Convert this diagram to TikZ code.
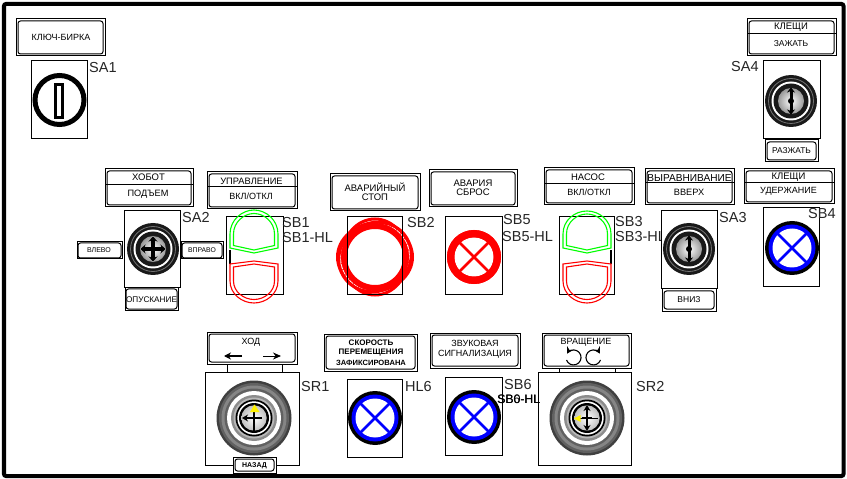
\documentclass[tikz,border=0pt]{standalone}
\usepackage{fontspec}
\setmainfont{Liberation Sans}
\usetikzlibrary{arrows.meta}
\newcommand{\fs}[1]{\fontsize{#1bp}{#1bp}\selectfont}
\def\pgap{2}
\tikzset{
  x=1bp,y=-1bp,
  plateouter/.style={draw=black,line width=1bp,fill=white,inner sep=0pt,outer sep=0pt},
  plateinner/.style={draw=black,line width=1bp,rounded corners=2.5bp},
  devbox/.style={draw=black,line width=1bp,fill=white,inner sep=0pt,outer sep=0pt},
  devlabel/.style={inner sep=0pt,anchor=west,font=\fs{14.5},text=black!85},
  platetext/.style={inner sep=0pt,anchor=center},
  greenl/.style={draw=green,line width=1.1bp},
  redl/.style={draw=red,line width=1.1bp},
}
% name x1 y1 x2 y2
\newcommand{\plate}[5]{%
  \node[plateouter,minimum width={(#4-#2)*1bp},minimum height={(#5-#3)*1bp}] (#1) at ({(#2+#4)/2},{(#3+#5)/2}) {};
  \draw[plateinner] ({#2+\pgap},{#3+\pgap}) rectangle ({#4-\pgap},{#5-\pgap});
}
\newcommand{\divider}[3]{\draw[black,line width=1bp] (#1,#3) -- (#2,#3);}
\newcommand{\device}[5]{%
  \node[devbox,minimum width={(#4-#2)*1bp},minimum height={(#5-#3)*1bp}] (#1) at ({(#2+#4)/2},{(#3+#5)/2}) {};
}
% x y ringcolor outercolor
\newcommand{\lampring}[4]{%
  \fill[#4] (#1,#2) circle (27);
  \fill[#3] (#1,#2) circle (23.5);
  \fill[white] (#1,#2) circle (19.5);
  \draw[#3,line width=2.6bp] ({#1-15},{#2-15}) -- ({#1+15},{#2+15});
  \draw[#3,line width=2.6bp] ({#1-15},{#2+15}) -- ({#1+15},{#2-15});
}
% rotary base: x y
\newcommand{\knob}[2]{%
  \fill[black!90] (#1,#2) circle (26);
  \draw[black!55,line width=0.8bp] (#1,#2) circle (22.5);
  \fill[white] (#1,#2) circle (19.5);
  \fill[black!90] (#1,#2) circle (17.5);
  \shade[inner color=white,outer color=black!40] (#1,#2) circle (13);
}
\newcommand{\srknob}[2]{%
  \fill[black!75] (#1,#2) circle (37.5);
  \fill[black!62] (#1,#2) circle (35);
  \fill[black!48] (#1,#2) circle (32.5);
  \fill[black!62] (#1,#2) circle (29.5);
  \fill[white] (#1,#2) circle (27);
  \fill[black!45] (#1,#2) circle (23);
  \fill[black!28] (#1,#2) circle (20.5);
  \fill[black] (#1,#2) circle (18.5);
  \fill[white] (#1,#2) circle (16.7);
  \fill[black] (#1,#2) circle (15);
  \shade[inner color=white,outer color=black!25] (#1,#2) circle (12.7);
}
\begin{document}
\begin{tikzpicture}
\useasboundingbox (0,0) rectangle (847,479);
\fill[white] (0,0) rectangle (847,479);
\draw[black,line width=4bp,rounded corners=2bp] (4,4) rectangle (843.5,476);

% --- SA1
\plate{pkey}{16}{19}{105}{56}
\node[platetext,font=\fs{9}] (tkey) at (61,37.5) {КЛЮЧ-БИРКА};
\device{sa1}{31}{61}{87}{139}
\draw[black,line width=5bp] (59.5,100) circle (24.5);
\draw[black,line width=3.2bp,fill=white] (55.5,84.5) rectangle (62.5,117.5);
\node[devlabel] (lsa1) at (89,68) {SA1};

% --- SA4
\plate{pkl}{747}{19}{836}{56}
\divider{747}{836}{34}
\node[platetext,font=\fs{9.5}] (tkl1) at (791,27.5) {КЛЕЩИ};
\node[platetext,font=\fs{8.5}] (tkl2) at (791,44) {ЗАЖАТЬ};
\device{sa4}{763}{61}{820}{139}
\knob{791}{101}
\draw[black,line width=3bp,{Stealth[length=5bp,width=8bp]}-{Stealth[length=5bp,width=8bp]}] (791,87.5) -- (791,114.5);
\fill[black] (791,101) circle (3);
\plate{pra}{765}{140}{818}{162}
\node[platetext,font=\fs{8.4}] (tra) at (791.5,151) {РАЗЖАТЬ};
\node[devlabel] (lsa4) at (731,67) {SA4};

% --- SA2
\plate{phob}{105}{169}{193}{207}
\divider{105}{193}{185}
\node[platetext,font=\fs{9.5}] (thob1) at (148.5,177.5) {ХОБОТ};
\node[platetext,font=\fs{9.2}] (thob2) at (148,194) {ПОДЪЕМ};
\device{sa2}{124}{211}{180}{288}
\knob{153}{249}
\draw[black,line width=3.2bp,{Stealth[length=5bp,width=9bp]}-{Stealth[length=5bp,width=9bp]}] (140.5,249) -- (165.5,249);
\draw[black,line width=3.2bp,{Stealth[length=5bp,width=9bp]}-{Stealth[length=5bp,width=9bp]}] (153,236.5) -- (153,261.5);
\def\pgap{1}
\plate{pvl}{77}{242}{122}{259}
\node[platetext,font=\fs{7}] (tvl) at (99,250.5) {ВЛЕВО};
\plate{pvp}{181}{242}{223}{259}
\node[platetext,font=\fs{6.8}] (tvp) at (202,250.5) {ВПРАВО};
\plate{pop}{125}{288}{178}{310}
\node[platetext,font=\fs{8.2}] (top) at (151.5,299.5) {ОПУСКАНИЕ};
\def\pgap{2}
\node[devlabel] (lsa2) at (182,218) {SA2};

% --- SB1
\plate{pupr}{207}{172}{297}{209}
\divider{207}{297}{187}
\node[platetext,font=\fs{9.3}] (tupr1) at (251.5,181.5) {УПРАВЛЕНИЕ};
\node[platetext,font=\fs{9}] (tupr2) at (251,196) {ВКЛ/ОТКЛ};
\device{sb1}{226}{217}{283}{295}
\draw[greenl] (230,248) -- (230,234) .. controls (230,220) and (242,210) .. (254,210) .. controls (266,210) and (278,220) .. (278,234) -- (278,248) -- (254,253) -- cycle;
\draw[greenl] (233.5,245.5) -- (233.5,234) .. controls (233.5,222) and (244,213.5) .. (254,213.5) .. controls (264,213.5) and (274.5,222) .. (274.5,234) -- (274.5,245.5) -- (254,250) -- cycle;
\draw[black,line width=2bp] (230,250) -- (230,264);
\draw[redl] (230,264) -- (230,281) .. controls (230,294) and (242,303) .. (254,303) .. controls (266,303) and (278,294) .. (278,281) -- (278,264) -- (254,261) -- cycle;
\draw[redl] (233.5,267) -- (233.5,281) .. controls (233.5,292) and (244,299.5) .. (254,299.5) .. controls (264,299.5) and (274.5,292) .. (274.5,281) -- (274.5,267) -- (254,264) -- cycle;
\node[devlabel] (lsb1) at (282,223) {SB1};
\node[devlabel] (lsb1h) at (282,238) {SB1-HL};

% --- SB2
\plate{pav}{330}{174}{420}{211}
\node[platetext,font=\fs{9.5}] (tav1) at (375,187) {АВАРИЙНЫЙ};
\node[platetext,font=\fs{9.5}] (tav2) at (375,197.5) {СТОП};
\device{sb2}{347}{217}{402}{295}
\draw[red,line width=3bp] (375,257) ellipse (37.5 and 33);
\draw[red,line width=3bp] (375,257) ellipse (33 and 38);
\draw[red,line width=6bp] (375,257) circle (31);
\draw[white,line width=0.7bp,dash pattern=on 5bp off 1bp] (375,257) circle (34.5);
\draw[red,line width=3bp,rotate around={30:(375,257)}] (375,257) ellipse (37 and 34);
\draw[black,line width=1bp] (347,217) rectangle (402,295);
\node[devlabel] (lsb2) at (407,223) {SB2};

% --- SB5
\plate{pas}{429}{170}{517}{207}
\node[platetext,font=\fs{9.5}] (tas1) at (473,183) {АВАРИЯ};
\node[platetext,font=\fs{9.5}] (tas2) at (473,192.5) {СБРОС};
\device{sb5}{445}{217}{502}{295}
\lampring{474}{257}{red}{red}
\draw[red,line width=7bp] (474,257) circle (23.5);
\node[devlabel] (lsb5) at (503,220) {SB5};
\node[devlabel] (lsb5h) at (502,237) {SB5-HL};

% --- SB3
\plate{pnas}{544}{168}{634}{205}
\divider{544}{634}{184}
\node[platetext,font=\fs{9.5}] (tnas1) at (588,177) {НАСОС};
\node[platetext,font=\fs{9}] (tnas2) at (589,192.5) {ВКЛ/ОТКЛ};
\device{sb3}{559}{217}{614}{295}
\draw[greenl] (563,248) -- (563,234) .. controls (563,220) and (575,211) .. (587,211) .. controls (599,211) and (611,220) .. (611,234) -- (611,248) -- (587,253) -- cycle;
\draw[greenl] (566.5,245.5) -- (566.5,234) .. controls (566.5,222) and (577,214) .. (587,214) .. controls (597,214) and (607.5,222) .. (607.5,234) -- (607.5,245.5) -- (587,250) -- cycle;
\draw[black,line width=2bp] (611,250) -- (611,264);
\draw[redl] (563,264) -- (563,281) .. controls (563,294) and (575,303) .. (587,303) .. controls (599,303) and (611,294) .. (611,281) -- (611,264) -- (587,261) -- cycle;
\draw[redl] (566.5,267) -- (566.5,281) .. controls (566.5,292) and (577,299.5) .. (587,299.5) .. controls (597,299.5) and (607.5,292) .. (607.5,281) -- (607.5,267) -- (587,264) -- cycle;
\node[devlabel] (lsb3) at (615,222) {SB3};
\node[devlabel] (lsb3h) at (615,237) {SB3-HL};

% --- SA3
\plate{pvyr}{645}{169}{734}{205}
\divider{645}{734}{183}
\node[platetext,font=\fs{10.1}] (tvyr1) at (689.5,178) {ВЫРАВНИВАНИЕ};
\node[platetext,font=\fs{9.2}] (tvyr2) at (689,192.5) {ВВЕРХ};
\device{sa3}{661}{211}{717}{289}
\knob{689}{249}
\draw[black,line width=3bp,{Stealth[length=5bp,width=8bp]}-{Stealth[length=5bp,width=8bp]}] (689,235.5) -- (689,262.5);
\fill[black] (689,249) circle (3);
\plate{pvn}{662}{289}{716}{311}
\node[platetext,font=\fs{8.5}] (tvn) at (689,300) {ВНИЗ};
\node[devlabel] (lsa3) at (719,218) {SA3};

% --- SB4
\plate{pud}{744}{169}{834}{204}
\divider{744}{834}{183}
\node[platetext,font=\fs{9.5}] (tud1) at (788.5,177.5) {КЛЕЩИ};
\node[platetext,font=\fs{9}] (tud2) at (788.5,191.5) {УДЕРЖАНИЕ};
\device{sb4}{763}{208}{819}{287}
\lampring{792}{248}{blue}{black}
\node[devlabel] (lsb4) at (808,214) {SB4};

% --- SR1
\plate{phod}{207}{332}{297}{364}
\node[platetext,font=\fs{9}] (thod) at (251,342) {ХОД};
\draw[black,line width=2.2bp,-{Stealth[length=7bp,width=7bp]}] (242,356) -- (224,356);
\draw[black,line width=1bp,-{Stealth[length=8bp,width=7bp]}] (263,356) -- (281,356);
\device{sr1}{205}{372}{299}{465}
\draw[black,line width=1bp] (227,0 |- phod.south) -- (227,0 |- sr1.north);
\draw[black,line width=1bp] (282,0 |- phod.south) -- (282,0 |- sr1.north);
\srknob{254}{418}
\draw[black,line width=1.2bp] (254,407) -- (254,431);
\draw[black,line width=1.6bp,-{Stealth[length=6bp,width=7bp]}] (262,418) -- (242,418);
\draw[black,line width=2.5bp] (254,413) -- (254,424);
\draw[black,line width=2.5bp] (249,418) -- (259,418);
\fill[yellow] (254.5,404.5) -- (259.5,412) -- (250,412) -- cycle;
\plate{pnaz}{233}{457}{276}{473}
\node[platetext,font=\bfseries\fs{7}] (tnaz) at (254.5,465.5) {НАЗАД};
\node[devlabel] (lsr1) at (301,387) {SR1};

% --- HL6
\plate{pskor}{324}{334}{417}{371}
\node[platetext,font=\bfseries\fs{8}] (tsk1) at (371,342.5) {СКОРОСТЬ};
\node[platetext,font=\bfseries\fs{8}] (tsk2) at (371,352.5) {ПЕРЕМЕЩЕНИЯ};
\node[platetext,font=\bfseries\fs{7.6}] (tsk3) at (371,362.5) {ЗАФИКСИРОВАНА};
\device{hl6}{347}{379}{402}{457}
\lampring{375}{418}{blue}{black}
\node[devlabel] (lhl6) at (405,387) {HL6};

% --- SB6
\plate{pzv}{430}{333}{520}{368}
\node[platetext,font=\fs{9}] (tzv1) at (475,343.5) {ЗВУКОВАЯ};
\node[platetext,font=\fs{9}] (tzv2) at (475,354) {СИГНАЛИЗАЦИЯ};
\device{sb6}{445}{377}{502}{455}
\lampring{474}{417}{blue}{black}
\node[devlabel] (lsb6) at (504,385) {SB6};

% --- SR2
\plate{pvr}{542}{333}{631}{368}
\node[platetext,font=\fs{9}] (tvr) at (586,342) {ВРАЩЕНИЕ};
\draw[black,line width=1.1bp,-{Stealth[length=6.5bp,width=7bp]}] (566.5,360) arc[start angle=-200,end angle=-510,radius=7.5];
\draw[black,line width=1.1bp,-{Stealth[length=6.5bp,width=7bp]}] (600.5,360) arc[start angle=20,end angle=330,radius=7.5];
\device{sr2}{538}{372}{631}{465}
\draw[black,line width=1bp] (559,0 |- pvr.south) -- (559,0 |- sr2.north);
\draw[black,line width=1bp] (615,0 |- pvr.south) -- (615,0 |- sr2.north);
\srknob{587}{418}
\draw[black,line width=2bp,{Stealth[length=6bp,width=7bp]}-{Stealth[length=6bp,width=7bp]}] (587,405) -- (587,431);
\draw[black,line width=0.8bp] (576,418) -- (598,418);
\draw[black,line width=2.5bp] (582,418) -- (592,418);
\fill[yellow] (574,418.5) -- (580.5,415) -- (580.5,422) -- cycle;
\node[devlabel] (lsr2) at (636,387) {SR2};
\node[devlabel,font=\fs{12.2},text=black] (lsb6h) at (497,399) {SB6-HL};
\node[devlabel,font=\fs{12.2},text=black] (lsb6hb) at (497.4,399) {SB0-HL};
\end{tikzpicture}
\end{document}
